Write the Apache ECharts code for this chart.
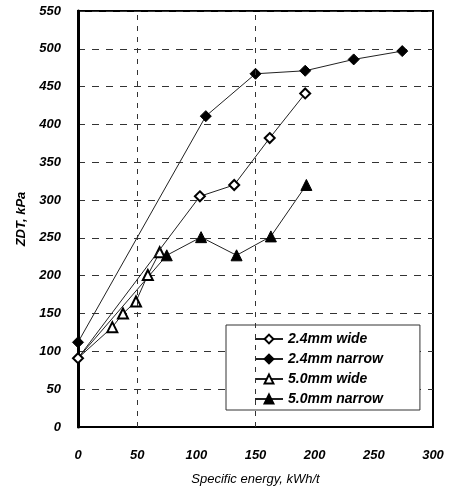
<!DOCTYPE html>
<html>
<head>
<meta charset="utf-8">
<script src="https://cdn.jsdelivr.net/npm/echarts@6/dist/echarts.min.js"></script>
<style>
  html, body { margin: 0; padding: 0; background: #fff; }
  #chart { width: 454px; height: 496px; }
</style>
</head>
<body>
<div id="chart"></div>
<script>
// values: [specific energy kWh/t, ZDT kPa]
const wide24 = [[0, 91], [103, 305], [132, 320], [162, 382], [192, 441]];
const narrow24 = [[0, 112], [108, 411], [150, 467], [192, 471], [233, 486], [274, 497]];
const wide50 = [[0, 91], [29, 132], [38, 150], [49, 166], [59, 201], [69, 231]];
const narrow50 = [[0, 91], [75, 227], [104, 251], [134, 227], [163, 252], [193, 320]];
const xGridAt = [50, 150];

const labelFont = {
    fontFamily: "Liberation Sans",
    fontStyle: "italic",
    fontWeight: "bold",
    fontSize: 13,
    color: "#000",
};

let chart = echarts.init(document.getElementById("chart"), null, { renderer: "canvas" });

// hide the marker of the shared starting point
let hideFirst = (size) => (val, params) => (params.dataIndex === 0 ? 0 : size);

let mkSeries = (name, data, symbol, size, z) => ({
    name: name,
    type: "line",
    data: data,
    symbol: symbol,
    symbolSize: size,
    showAllSymbol: true,
    lineStyle: { color: "#222", width: 1 },
    itemStyle: { color: "#000", borderColor: "#000", borderWidth: 1 },
    z: z,
});

let s1 = mkSeries("2.4mm wide", wide24, "emptyDiamond", 10, 5);
s1.markLine = {
    silent: true,
    symbol: "none",
    label: { show: false },
    lineStyle: { color: "#333", type: [5, 6], width: 1 },
    data: xGridAt.map((v) => ({ xAxis: v })),
};
let s2 = mkSeries("2.4mm narrow", narrow24, "diamond", 11, 4);
let s3 = mkSeries("5.0mm wide", wide50, "emptyTriangle", hideFirst(10), 3);
let s4 = mkSeries("5.0mm narrow", narrow50, "triangle", hideFirst(11), 3);

chart.setOption({
    animation: false,
    backgroundColor: "#fff",
    grid: {
        left: 78,
        right: 21,
        top: 11,
        bottom: 69,
        show: true,
        borderColor: "#000",
        borderWidth: 2,
        backgroundColor: "transparent",
    },
    xAxis: {
        type: "value",
        min: 0,
        max: 300,
        interval: 50,
        name: "Specific energy, kWh/t",
        nameLocation: "middle",
        nameGap: 46,
        nameTextStyle: { fontFamily: "Liberation Sans", fontStyle: "italic", fontSize: 13, color: "#000" },
        axisLine: { lineStyle: { color: "#000", width: 2 } },
        axisTick: { show: false },
        axisLabel: Object.assign({ margin: 22 }, labelFont),
        splitLine: { show: false },
    },
    yAxis: {
        type: "value",
        min: 0,
        max: 550,
        interval: 50,
        name: "ZDT, kPa",
        nameLocation: "middle",
        nameGap: 48,
        nameTextStyle: { fontFamily: "Liberation Sans", fontStyle: "italic", fontWeight: "bold", fontSize: 13, color: "#000" },
        axisLine: { lineStyle: { color: "#000", width: 3 } },
        axisTick: { show: false },
        axisLabel: Object.assign({ margin: 17 }, labelFont),
        splitLine: { lineStyle: { color: "#333", type: [7, 7], width: 1 } },
    },
    legend: {
        orient: "vertical",
        left: 226,
        top: 325,
        width: 194,
        padding: [7, 37, 4, 28],
        itemWidth: 28,
        itemHeight: 11,
        itemGap: 6,
        backgroundColor: "#fff",
        borderColor: "#333",
        borderWidth: 1,
        textStyle: { fontFamily: "Liberation Sans", fontStyle: "italic", fontWeight: "bold", fontSize: 14, color: "#000" },
        data: ["2.4mm wide", "2.4mm narrow", "5.0mm wide", "5.0mm narrow"],
    },
    series: [s1, s2, s3, s4],
});
</script>
</body>
</html>
